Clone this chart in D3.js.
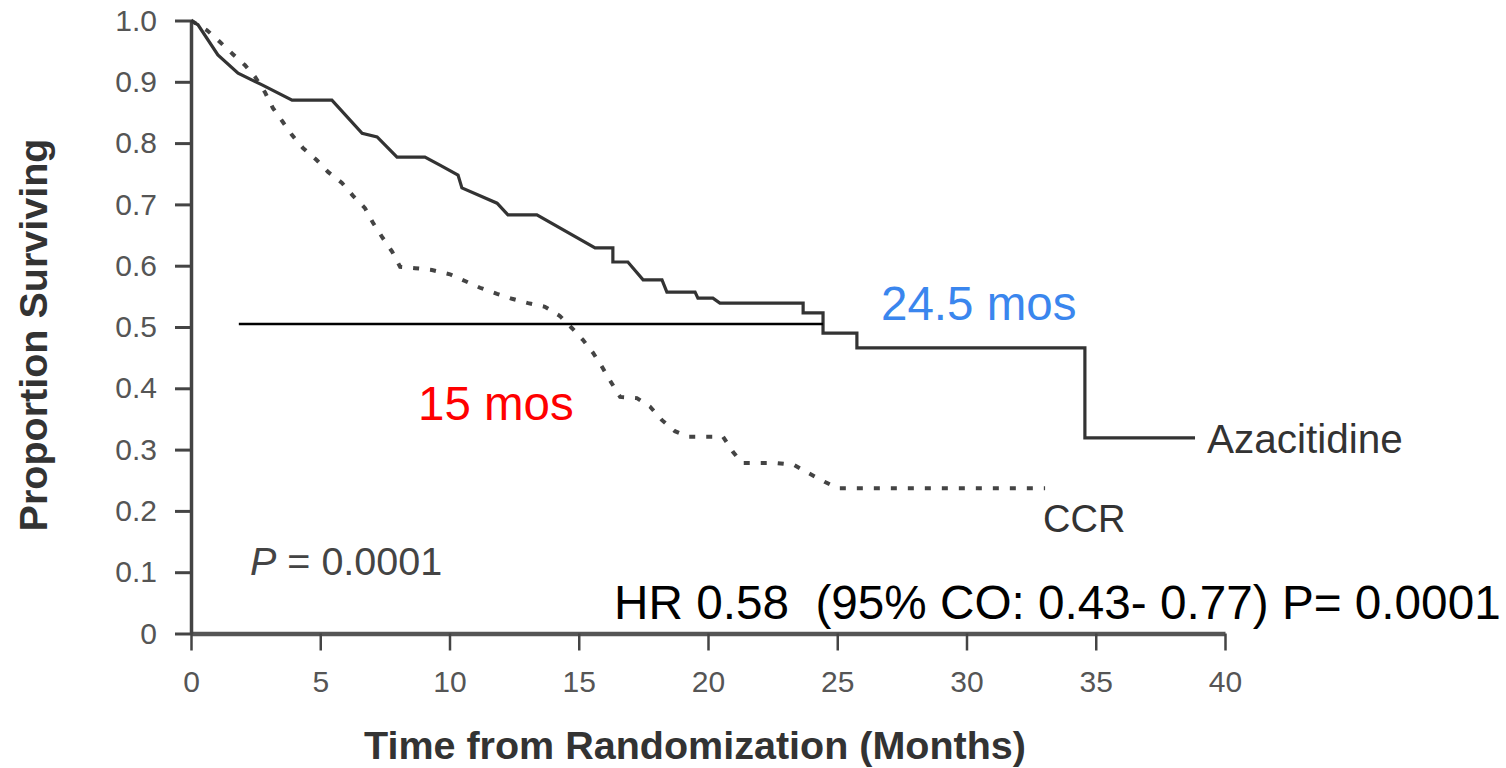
<!DOCTYPE html>
<html>
<head>
<meta charset="utf-8">
<script src="https://cdn.jsdelivr.net/npm/d3@7"></script>
<style>
  html, body { margin: 0; padding: 0; background: #fff; }
  svg { display: block; }
  text { font-family: "Liberation Sans", Arial, sans-serif; }
</style>
</head>
<body>
<svg id="chart" width="1506" height="768"></svg>
<script>
// ---- Data ----
const xTicks = [0, 5, 10, 15, 20, 25, 30, 35, 40];
const yTicks = [0, 0.1, 0.2, 0.3, 0.4, 0.5, 0.6, 0.7, 0.8, 0.9, 1.0];
const yTickLabels = ["0", "0.1", "0.2", "0.3", "0.4", "0.5", "0.6", "0.7", "0.8", "0.9", "1.0"];

const azaMonths = [0, 0.27, 1.04, 1.82, 2.75, 3.91, 5.45, 6.62, 7.2, 7.97, 9.05, 9.63, 10.33, 10.48, 11.84, 12.26, 13.38, 15.63, 16.32, 16.32, 16.9, 17.49, 18.22, 18.41, 19.5, 19.61, 20.19, 20.46, 23.68, 23.68, 24.45, 24.45, 25.76, 25.76, 34.58, 34.58, 38.84];
const azaSurv   = [1.0, 0.993, 0.944, 0.914, 0.895, 0.870, 0.870, 0.816, 0.81, 0.777, 0.777, 0.764, 0.748, 0.727, 0.702, 0.683, 0.683, 0.629, 0.629, 0.606, 0.606, 0.577, 0.577, 0.557, 0.557, 0.547, 0.547, 0.539, 0.539, 0.523, 0.523, 0.490, 0.490, 0.466, 0.466, 0.319, 0.319];

const ccrMonths = [0, 0.62, 1.12, 1.62, 2.09, 2.48, 2.86, 3.17, 3.56, 3.91, 4.33, 4.87, 5.30, 5.84, 6.27, 6.73, 7.04, 7.39, 7.78, 8.09, 8.67, 9.32, 10.02, 10.60, 11.18, 11.84, 12.42, 13.04, 13.69, 14.27, 14.74, 15.16, 15.55, 15.90, 16.25, 16.60, 17.25, 17.76, 18.22, 18.72, 19.23, 20.58, 20.97, 21.32, 22.67, 23.33, 23.87, 24.53, 25.03, 33.04];
const ccrSurv   = [1.0, 0.984, 0.965, 0.945, 0.927, 0.908, 0.883, 0.857, 0.834, 0.813, 0.792, 0.772, 0.753, 0.735, 0.714, 0.694, 0.670, 0.647, 0.623, 0.598, 0.596, 0.593, 0.586, 0.575, 0.564, 0.554, 0.546, 0.539, 0.533, 0.518, 0.498, 0.479, 0.458, 0.435, 0.410, 0.386, 0.384, 0.370, 0.348, 0.330, 0.321, 0.321, 0.296, 0.278, 0.278, 0.275, 0.262, 0.247, 0.237, 0.237];

const medianLineMonths = [1.85, 24.45];
const medianLineSurv = 0.505;

const seriesNames = ["Azacitidine", "CCR"];
const medianLabels = ["24.5 mos", "15 mos"];
const pText = "0.0001";
const hrText = "HR 0.58  (95% CO: 0.43- 0.77) P= 0.0001";
const xTitle = "Time from Randomization (Months)";
const yTitle = "Proportion Surviving";

// ---- Scales ----
const svg = d3.select("#chart");
const x = d3.scaleLinear().domain([0, 40]).range([191, 1225]);
const y = d3.scaleLinear().domain([0, 1]).range([633.5, 20.5]);

// ---- Axes ----
const xAxis = d3.axisBottom(x).tickValues(xTicks).tickSize(17).tickSizeOuter(0).tickPadding(20);
const yAxis = d3.axisLeft(y).tickValues(yTicks).tickSize(16).tickSizeOuter(0).tickPadding(18)
  .tickFormat((d, i) => yTickLabels[i]);

const gx = svg.append("g").attr("transform", `translate(0,${y(0)})`).call(xAxis);
gx.select(".domain").attr("stroke", "#555").attr("stroke-width", 4.5);
gx.selectAll(".tick line").attr("stroke", "#444").attr("stroke-width", 2.5);
gx.selectAll(".tick text").attr("fill", "#555").style("font-size", "30px");

const gy = svg.append("g").attr("transform", `translate(${x(0)},0)`).call(yAxis);
gy.select(".domain").attr("stroke", "#444").attr("stroke-width", 3.5);
gy.selectAll(".tick line").attr("stroke", "#444").attr("stroke-width", 3);
gy.selectAll(".tick text").attr("fill", "#555").style("font-size", "30px");

// ---- Curves ----
const line = d3.line().x(d => x(d[0])).y(d => y(d[1]));
const azaData = azaMonths.map((m, i) => [m, azaSurv[i]]);
const ccrData = ccrMonths.map((m, i) => [m, ccrSurv[i]]);

svg.append("path").datum(ccrData).attr("d", line)
  .attr("fill", "none").attr("stroke", "#444").attr("stroke-width", 4)
  .attr("stroke-dasharray", "6,11");

svg.append("path").datum(azaData).attr("d", line)
  .attr("fill", "none").attr("stroke", "#333").attr("stroke-width", 3.2)
  .attr("stroke-linejoin", "miter");

// median line
svg.append("line")
  .attr("x1", x(medianLineMonths[0])).attr("x2", x(medianLineMonths[1]))
  .attr("y1", y(medianLineSurv)).attr("y2", y(medianLineSurv))
  .attr("stroke", "#000").attr("stroke-width", 2.5);

// ---- Texts ----
svg.append("text").attr("x", 881).attr("y", 320).attr("fill", "#3a86ee")
  .style("font-size", "47.5px").text(medianLabels[0]);
svg.append("text").attr("x", 418).attr("y", 420).attr("fill", "#ff0000")
  .style("font-size", "47.5px").text(medianLabels[1]);

svg.append("text").attr("x", 1207).attr("y", 453).attr("fill", "#333")
  .style("font-size", "40.5px").text(seriesNames[0]);
svg.append("text").attr("x", 1043).attr("y", 532).attr("fill", "#333")
  .style("font-size", "38px").text(seriesNames[1]);

const pt = svg.append("text").attr("x", 250).attr("y", 575).attr("fill", "#444").style("font-size", "39.5px");
pt.append("tspan").style("font-style", "italic").text("P");
pt.append("tspan").text(" = " + pText);

svg.append("text").attr("x", 614).attr("y", 619).attr("fill", "#000")
  .style("font-size", "47.7px").style("white-space", "pre").text(hrText);

svg.append("text").attr("transform", "translate(47,335) rotate(-90)")
  .attr("text-anchor", "middle").attr("fill", "#333")
  .style("font-size", "39.5px").style("font-weight", "bold").text(yTitle);

svg.append("text").attr("x", 695).attr("y", 759)
  .attr("text-anchor", "middle").attr("fill", "#333")
  .style("font-size", "39.5px").style("font-weight", "bold")
  .text(xTitle);
</script>
</body>
</html>
